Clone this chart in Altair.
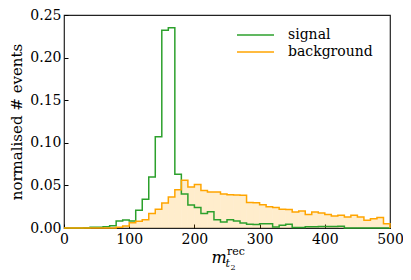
import altair as alt
import pandas as pd

bin_edges = list(range(0, 510, 10))
signal = [0, 0, 0, 0.0003, 0.0008, 0.0008, 0.0015, 0.0027, 0.0083, 0.0095,
          0.0083, 0.0208, 0.0337, 0.060, 0.107, 0.232, 0.235, 0.063, 0.040, 0.027,
          0.024, 0.017, 0.019, 0.0098, 0.007, 0.0098, 0.0083, 0.0059, 0.0043, 0.0040,
          0.005, 0.005, 0.0012, 0.0032, 0.0043, 0.0007, 0.0007, 0.0015, 0.0015, 0.0018,
          0.0018, 0.0018, 0.002, 0, 0, 0, 0, 0, 0, 0]
background = [0, 0, 0, 0, 0, 0, 0, 0, 0.001, 0.0024,
              0.0063, 0.0078, 0.0098, 0.0169, 0.022, 0.0294, 0.0365, 0.045, 0.056, 0.048,
              0.051, 0.044, 0.0423, 0.0423, 0.040, 0.039, 0.0388, 0.0385, 0.030, 0.0295,
              0.0272, 0.025, 0.024, 0.022, 0.0216, 0.0188, 0.020, 0.0157, 0.0188, 0.0176,
              0.0157, 0.0141, 0.0149, 0.0129, 0.0149, 0.0129, 0.009, 0.011, 0.0122, 0.005]
series_names = ["signal", "background"]
series_colors = ["#2ca02c", "#ffa500"]
x_ticks = [0, 100, 200, 300, 400, 500]
y_ticks = [0.0, 0.05, 0.10, 0.15, 0.20, 0.25]

FONT = "DejaVu Serif"


def step_rows(name, vals):
    rows = [{"series": name, "x": bin_edges[0], "y": 0.0, "i": 0}]
    for k, v in enumerate(vals):
        rows.append({"series": name, "x": bin_edges[k], "y": v, "i": k + 1})
    rows.append({"series": name, "x": bin_edges[-1], "y": vals[-1], "i": len(vals) + 1})
    rows.append({"series": name, "x": bin_edges[-1], "y": 0.0, "i": len(vals) + 2})
    return rows


df = pd.DataFrame(step_rows("signal", signal) + step_rows("background", background))

xscale = alt.Scale(domain=[0, 500], nice=False, zero=False)
yscale = alt.Scale(domain=[0, 0.25], nice=False)

xaxis = alt.Axis(values=x_ticks, format="d", title=None, grid=False, domain=False,
                 offset=-4, tickSize=4, labelPadding=4, labelFlush=False,
                 labelFont=FONT, labelFontSize=14, labelColor="black",
                 tickColor="black", labelOverlap=False)
yaxis = alt.Axis(values=y_ticks, format=".2f", title="normalised # events", grid=False,
                 domain=False, offset=-4, tickSize=4, labelPadding=3, labelFlush=False,
                 labelFont=FONT, labelFontSize=14, labelColor="black",
                 tickColor="black", titleFont=FONT, titleFontSize=15,
                 titleFontWeight="normal", titleColor="black", titlePadding=5,
                 labelOverlap=False)

area = alt.Chart(df).transform_filter(alt.datum.series == "background").mark_area(
    interpolate="step-after", color="#ffa500", opacity=0.2
).encode(
    x=alt.X("x:Q", scale=xscale, axis=xaxis),
    y=alt.Y("y:Q", scale=yscale, axis=yaxis),
    order="i:Q",
)

lines = alt.Chart(df).mark_line(interpolate="step-after", strokeWidth=1.5).encode(
    x=alt.X("x:Q", scale=xscale),
    y=alt.Y("y:Q", scale=yscale),
    color=alt.Color("series:N",
                    scale=alt.Scale(domain=series_names, range=series_colors),
                    legend=None),
    order="i:Q",
)


# manual legend (matplotlib style: long line then label)
def legend_entry(k):
    name, col = series_names[k], series_colors[k]
    ypos = 20 + 17 * k
    d = pd.DataFrame({"t": [name]})
    line = alt.Chart(d).mark_rule(color=col, strokeWidth=1.5).encode(
        x=alt.value(173), x2=alt.value(210), y=alt.value(ypos))
    txt = alt.Chart(d).mark_text(font=FONT, fontSize=14, align="left", baseline="middle",
                                 color="black").encode(
        x=alt.value(224), y=alt.value(ypos), text="t:N")
    return line + txt


legend = legend_entry(0) + legend_entry(1)

title_parts = pd.DataFrame({
    "t": ["m", "rec", "t", "2"],
    "px": [147.5, 163, 161.5, 166.5],
    "py": [248, 240, 251.5, 255],
})


def part(idx, size, style):
    row = title_parts.iloc[idx]
    return alt.Chart(pd.DataFrame({"t": [row.t]})).mark_text(
        font=FONT, fontSize=size, fontStyle=style, align="left", baseline="alphabetic",
        color="black"
    ).encode(x=alt.value(float(row.px)), y=alt.value(float(row.py)), text="t:N")


xtitle = part(0, 16, "italic") + part(1, 11, "normal") + part(2, 11, "italic") + part(3, 8, "normal")

chart = alt.layer(area, lines, legend, xtitle).properties(
    width=326, height=213,
    autosize=alt.AutoSizeParams(type="none"),
    padding={"left": 56, "top": 7, "right": 13, "bottom": 44},
).configure_view(stroke="#222", strokeWidth=1.2)

chart.save("out.html", embed_options={"renderer": "svg", "actions": False})
